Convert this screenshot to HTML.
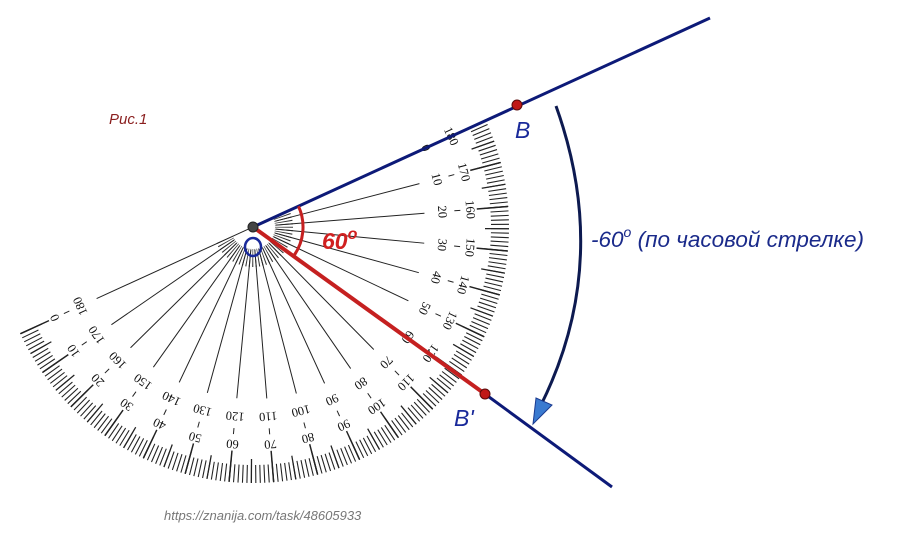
<!DOCTYPE html>
<html><head><meta charset="utf-8"><style>
html,body{margin:0;padding:0;background:#fff;}
svg{display:block;}
.n{font-family:"Liberation Serif",serif;font-size:12.5px;fill:#111;text-anchor:middle;dominant-baseline:central;}
</style></head><body>
<svg width="911" height="539" viewBox="0 0 911 539" xmlns="http://www.w3.org/2000/svg">
<defs>
<clipPath id="half" clipPathUnits="userSpaceOnUse"><polygon points="-110,391 618,59 784,423 56,755"/></clipPath>
</defs>
<rect width="911" height="539" fill="#fff"/>
<g clip-path="url(#half)">
<g fill="none" stroke="#222" transform="rotate(-24.6 253 227)">
<circle cx="253" cy="227" r="247" stroke-width="18" pathLength="360" stroke-dasharray="0.25 0.75" stroke-dashoffset="0.125"/>
<circle cx="253" cy="227" r="244" stroke-width="24" pathLength="360" stroke-dasharray="0.3 4.7" stroke-dashoffset="0.15"/>
<circle cx="253" cy="227" r="240" stroke-width="31" pathLength="360" stroke-dasharray="0.35 9.65" stroke-dashoffset="0.175"/>
<circle cx="253" cy="227" r="31" stroke-width="18" stroke="#333" pathLength="360" stroke-dasharray="1.6 3.4" stroke-dashoffset="0.8"/>
</g>
</g>
<g stroke="#222" stroke-width="1">
<g transform="rotate(-24.6 253 227)"><line x1="451" y1="227" x2="457" y2="227"/><text class="n" stroke="none" transform="translate(443,227) rotate(90)">0</text><text class="n" stroke="none" transform="translate(471,227) rotate(90)">180</text></g>
<g transform="rotate(-14.6 253 227)"><line x1="276" y1="227" x2="425" y2="227"/><line x1="455" y1="227" x2="461" y2="227"/><text class="n" stroke="none" transform="translate(443,227) rotate(90)">10</text><text class="n" stroke="none" transform="translate(471,227) rotate(90)">170</text></g>
<g transform="rotate(-4.6 253 227)"><line x1="276" y1="227" x2="425" y2="227"/><line x1="455" y1="227" x2="461" y2="227"/><text class="n" stroke="none" transform="translate(443,227) rotate(90)">20</text><text class="n" stroke="none" transform="translate(471,227) rotate(90)">160</text></g>
<g transform="rotate(5.4 253 227)"><line x1="276" y1="227" x2="425" y2="227"/><line x1="455" y1="227" x2="461" y2="227"/><text class="n" stroke="none" transform="translate(443,227) rotate(90)">30</text><text class="n" stroke="none" transform="translate(471,227) rotate(90)">150</text></g>
<g transform="rotate(15.4 253 227)"><line x1="276" y1="227" x2="425" y2="227"/><line x1="455" y1="227" x2="461" y2="227"/><text class="n" stroke="none" transform="translate(443,227) rotate(90)">40</text><text class="n" stroke="none" transform="translate(471,227) rotate(90)">140</text></g>
<g transform="rotate(25.4 253 227)"><line x1="276" y1="227" x2="425" y2="227"/><line x1="455" y1="227" x2="461" y2="227"/><text class="n" stroke="none" transform="translate(443,227) rotate(90)">50</text><text class="n" stroke="none" transform="translate(471,227) rotate(90)">130</text></g>
<g transform="rotate(35.4 253 227)"><line x1="276" y1="227" x2="425" y2="227"/><line x1="455" y1="227" x2="461" y2="227"/><text class="n" stroke="none" transform="translate(443,227) rotate(90)">60</text><text class="n" stroke="none" transform="translate(471,227) rotate(90)">120</text></g>
<g transform="rotate(45.4 253 227)"><line x1="276" y1="227" x2="425" y2="227"/><line x1="455" y1="227" x2="461" y2="227"/><text class="n" stroke="none" transform="translate(443,227) rotate(90)">70</text><text class="n" stroke="none" transform="translate(471,227) rotate(90)">110</text></g>
<g transform="rotate(55.4 253 227)"><line x1="276" y1="227" x2="425" y2="227"/><line x1="455" y1="227" x2="461" y2="227"/><text class="n" stroke="none" transform="translate(443,227) rotate(90)">80</text><text class="n" stroke="none" transform="translate(471,227) rotate(90)">100</text></g>
<g transform="rotate(65.4 253 227)"><line x1="276" y1="227" x2="425" y2="227"/><line x1="455" y1="227" x2="461" y2="227"/><text class="n" stroke="none" transform="translate(443,227) rotate(90)">90</text><text class="n" stroke="none" transform="translate(471,227) rotate(90)">90</text></g>
<g transform="rotate(75.4 253 227)"><line x1="276" y1="227" x2="425" y2="227"/><line x1="455" y1="227" x2="461" y2="227"/><text class="n" stroke="none" transform="translate(443,227) rotate(90)">100</text><text class="n" stroke="none" transform="translate(471,227) rotate(90)">80</text></g>
<g transform="rotate(85.4 253 227)"><line x1="276" y1="227" x2="425" y2="227"/><line x1="455" y1="227" x2="461" y2="227"/><text class="n" stroke="none" transform="translate(443,227) rotate(90)">110</text><text class="n" stroke="none" transform="translate(471,227) rotate(90)">70</text></g>
<g transform="rotate(95.4 253 227)"><line x1="276" y1="227" x2="425" y2="227"/><line x1="455" y1="227" x2="461" y2="227"/><text class="n" stroke="none" transform="translate(443,227) rotate(90)">120</text><text class="n" stroke="none" transform="translate(471,227) rotate(90)">60</text></g>
<g transform="rotate(105.4 253 227)"><line x1="276" y1="227" x2="425" y2="227"/><line x1="455" y1="227" x2="461" y2="227"/><text class="n" stroke="none" transform="translate(443,227) rotate(90)">130</text><text class="n" stroke="none" transform="translate(471,227) rotate(90)">50</text></g>
<g transform="rotate(115.4 253 227)"><line x1="276" y1="227" x2="425" y2="227"/><line x1="455" y1="227" x2="461" y2="227"/><text class="n" stroke="none" transform="translate(443,227) rotate(90)">140</text><text class="n" stroke="none" transform="translate(471,227) rotate(90)">40</text></g>
<g transform="rotate(125.4 253 227)"><line x1="276" y1="227" x2="425" y2="227"/><line x1="455" y1="227" x2="461" y2="227"/><text class="n" stroke="none" transform="translate(443,227) rotate(90)">150</text><text class="n" stroke="none" transform="translate(471,227) rotate(90)">30</text></g>
<g transform="rotate(135.4 253 227)"><line x1="276" y1="227" x2="425" y2="227"/><line x1="455" y1="227" x2="461" y2="227"/><text class="n" stroke="none" transform="translate(443,227) rotate(90)">160</text><text class="n" stroke="none" transform="translate(471,227) rotate(90)">20</text></g>
<g transform="rotate(145.4 253 227)"><line x1="276" y1="227" x2="425" y2="227"/><line x1="455" y1="227" x2="461" y2="227"/><text class="n" stroke="none" transform="translate(443,227) rotate(90)">170</text><text class="n" stroke="none" transform="translate(471,227) rotate(90)">10</text></g>
<g transform="rotate(155.4 253 227)"><line x1="258" y1="227" x2="425" y2="227"/><line x1="455" y1="227" x2="461" y2="227"/><text class="n" stroke="none" transform="translate(443,227) rotate(90)">180</text><text class="n" stroke="none" transform="translate(471,227) rotate(90)">0</text></g>
</g>
<line x1="253" y1="227" x2="710" y2="18" stroke="#0d1a78" stroke-width="3"/>
<line x1="485" y1="394" x2="612" y2="487" stroke="#0d1a78" stroke-width="3"/>
<line x1="253" y1="227" x2="485" y2="394" stroke="#c52020" stroke-width="4"/>
<path d="M298.5,206.2 A50,50 0 0 1 293.5,256.3" fill="none" stroke="#c52020" stroke-width="3"/>
<circle cx="517" cy="105" r="5" fill="#c01818" stroke="#5a0a0a" stroke-width="1"/>
<circle cx="485" cy="394" r="5" fill="#c01818" stroke="#5a0a0a" stroke-width="1"/>
<circle cx="253" cy="227" r="5" fill="#444" stroke="#222"/>
<ellipse cx="253" cy="247" rx="8" ry="9" fill="none" stroke="#1a2a9a" stroke-width="2.5"/>
<path d="M556,106 Q612,262 541,405" fill="none" stroke="#0d1a50" stroke-width="3"/>
<polygon points="533,424 536,398 552,405" fill="#3a7ad0" stroke="#1a3a90" stroke-width="1"/>
<text x="109" y="124" font-family="Liberation Sans, sans-serif" font-style="italic" font-size="15" fill="#8a1e1e">Рис.1</text>
<text x="515" y="138" font-family="Liberation Sans, sans-serif" font-style="italic" font-size="23" fill="#1a2a9a">B</text>
<text x="454" y="426" font-family="Liberation Sans, sans-serif" font-style="italic" font-size="23" fill="#1a2a9a">B'</text>
<text x="322" y="249" font-family="Liberation Sans, sans-serif" font-style="italic" font-weight="bold" font-size="23" fill="#d02020">60<tspan font-size="16" dy="-10">o</tspan></text>
<text x="591" y="247" font-family="Liberation Sans, sans-serif" font-style="italic" font-size="22.5" fill="#1a2a8a">-60<tspan font-size="14" dy="-10">o</tspan><tspan dy="10"> (по часовой стрелке)</tspan></text>
<text x="164" y="520" font-family="Liberation Sans, sans-serif" font-style="italic" font-size="13" fill="#777">https://znanija.com/task/48605933</text>
</svg>
</body></html>
